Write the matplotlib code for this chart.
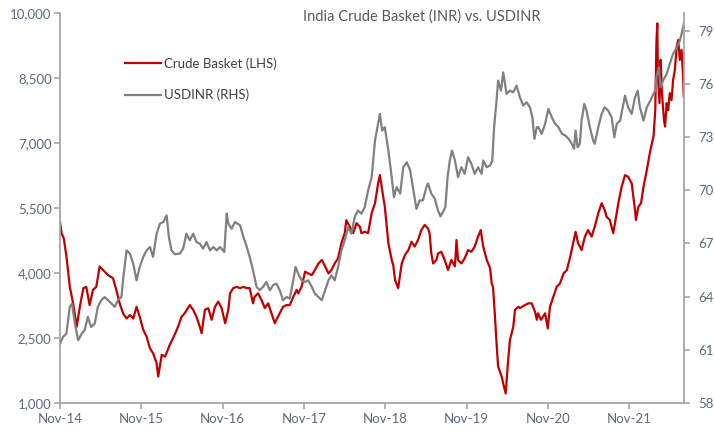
import numpy as np
import pandas as pd
import matplotlib
matplotlib.use("Agg")
import matplotlib.pyplot as plt
import matplotlib.dates as mdates
from matplotlib.ticker import FuncFormatter

# Indian crude basket in INR per bbl (LHS)
crude_dates = [
    "2014-11-01", "2014-11-08", "2014-11-18", "2014-11-30", "2014-12-15", "2014-12-30",
    "2015-01-15", "2015-01-29", "2015-02-14", "2015-02-27", "2015-03-14", "2015-03-29",
    "2015-04-13", "2015-04-28", "2015-05-13", "2015-06-05", "2015-06-27", "2015-07-12",
    "2015-07-27", "2015-08-11", "2015-08-27", "2015-09-11", "2015-09-26", "2015-10-11",
    "2015-10-25", "2015-11-10", "2015-11-25", "2015-12-10", "2015-12-24", "2016-01-09",
    "2016-01-16", "2016-02-01", "2016-02-16", "2016-03-08", "2016-03-23", "2016-04-09",
    "2016-04-30", "2016-05-14", "2016-06-06", "2016-06-21", "2016-07-06", "2016-07-21",
    "2016-07-29", "2016-08-13", "2016-08-28", "2016-09-12", "2016-09-27", "2016-10-12",
    "2016-10-27", "2016-11-12", "2016-11-26", "2016-12-04", "2016-12-18", "2017-01-03",
    "2017-01-18", "2017-02-02", "2017-02-17", "2017-03-02", "2017-03-17", "2017-03-24",
    "2017-04-09", "2017-04-24", "2017-05-09", "2017-05-24", "2017-06-08", "2017-06-23",
    "2017-06-30", "2017-07-15", "2017-07-30", "2017-08-15", "2017-08-29", "2017-09-14",
    "2017-09-29", "2017-10-06", "2017-10-21", "2017-11-06", "2017-11-20", "2017-12-06",
    "2017-12-20", "2018-01-05", "2018-01-20", "2018-02-04", "2018-02-19", "2018-03-04",
    "2018-03-19", "2018-04-03", "2018-04-18", "2018-05-03", "2018-05-10", "2018-05-25",
    "2018-06-10", "2018-06-25", "2018-07-10", "2018-07-17", "2018-08-01", "2018-08-16",
    "2018-09-01", "2018-09-16", "2018-09-30", "2018-10-08", "2018-10-18", "2018-10-30",
    "2018-11-08", "2018-11-15", "2018-11-30", "2018-12-07", "2018-12-15", "2018-12-29",
    "2019-01-14", "2019-01-29", "2019-02-13", "2019-02-27", "2019-03-13", "2019-03-28",
    "2019-04-12", "2019-04-27", "2019-05-12", "2019-05-19", "2019-05-27", "2019-06-04",
    "2019-06-19", "2019-06-26", "2019-07-11", "2019-07-26", "2019-08-10", "2019-08-25",
    "2019-09-10", "2019-09-17", "2019-09-24", "2019-10-09", "2019-10-24", "2019-11-08",
    "2019-11-23", "2019-12-08", "2019-12-23", "2020-01-04", "2020-01-15", "2020-01-31",
    "2020-02-15", "2020-02-22", "2020-02-28", "2020-03-07", "2020-03-15", "2020-03-22",
    "2020-04-07", "2020-04-14", "2020-04-25", "2020-05-06", "2020-05-14", "2020-05-29",
    "2020-06-06", "2020-06-21", "2020-06-28", "2020-07-20", "2020-08-05", "2020-08-20",
    "2020-09-04", "2020-09-12", "2020-09-17", "2020-10-01", "2020-10-19", "2020-10-31",
    "2020-11-10", "2020-11-25", "2020-12-10", "2020-12-25", "2021-01-10", "2021-01-25",
    "2021-02-09", "2021-02-22", "2021-03-05", "2021-03-16", "2021-04-01", "2021-04-16",
    "2021-04-30", "2021-05-16", "2021-05-30", "2021-06-15", "2021-06-30", "2021-07-14",
    "2021-07-22", "2021-08-06", "2021-08-21", "2021-08-29", "2021-09-13", "2021-09-28",
    "2021-10-13", "2021-10-27", "2021-11-12", "2021-11-27", "2021-12-01", "2021-12-12",
    "2021-12-24", "2022-01-04", "2022-01-19", "2022-02-04", "2022-02-18", "2022-02-26",
    "2022-03-03", "2022-03-07", "2022-03-10", "2022-03-17", "2022-03-22", "2022-03-28",
    "2022-04-06", "2022-04-11", "2022-04-18", "2022-04-25", "2022-05-02", "2022-05-10",
    "2022-05-17", "2022-05-25", "2022-06-02", "2022-06-09", "2022-06-16", "2022-06-24",
    "2022-07-01", "2022-07-04",
]
crude_vals = [
    5180, 4920, 4800, 4380, 3680, 3300,
    2760, 3220, 3650, 3680, 3260, 3610,
    3680, 4150, 4070, 3950, 3880, 3610,
    3300, 3070, 2950, 3030, 2950, 3220,
    2990, 2690, 2530, 2260, 2150, 1920,
    1610, 2110, 2070, 2340, 2500, 2690,
    2990, 3070, 3260, 3150, 2990, 2760,
    2610, 3150, 3190, 2920, 3220, 3340,
    3190, 2840, 3150, 3530, 3650, 3680,
    3650, 3680, 3650, 3650, 3300, 3450,
    3530, 3380, 3190, 3300, 3070, 2840,
    2920, 3070, 3220, 3260, 3260, 3450,
    3610, 3530, 3680, 4030, 3990, 3950,
    4070, 4220, 4300, 4150, 3990, 4070,
    4220, 4340, 4690, 4920, 5220, 5070,
    4920, 5150, 5070, 4920, 4950, 4920,
    5380, 5610, 6070, 6260, 5920, 5530,
    5070, 4690, 4300, 4180, 3840, 3650,
    4220, 4420, 4530, 4720, 4610, 4760,
    4990, 5110, 5030, 4920, 4450, 4220,
    4300, 4450, 4490, 4300, 4070, 4300,
    4150, 4760, 4300, 4220, 4340, 4530,
    4490, 4610, 4840, 4990, 4610, 4300,
    4110, 3760, 3680, 3070, 2380, 1840,
    1610, 1450, 1220, 1990, 2450, 2760,
    3150, 3220, 3190, 3260, 3300, 3300,
    3100, 2920, 3070, 2920, 3070, 2720,
    3220, 3450, 3680, 3760, 3990, 4070,
    4380, 4690, 4950, 4690, 4530, 4840,
    4990, 4840, 5070, 5380, 5610, 5450,
    5300, 5220, 4920, 5150, 5610, 5990,
    6260, 6220, 6070, 5450, 5220, 5530,
    5610, 5990, 6380, 6840, 7150, 7760,
    9300, 9760, 8530, 7920, 8920, 8150,
    7530, 7380, 7920, 7760, 8150, 7990,
    8450, 8690, 9220, 9380, 8920, 9150,
    8530, 8070,
]

# USD/INR (RHS)
fx_dates = [
    "2014-11-01", "2014-11-15", "2014-11-30", "2014-12-15", "2014-12-25", "2015-01-07",
    "2015-01-22", "2015-02-07", "2015-02-20", "2015-03-06", "2015-03-21", "2015-04-06",
    "2015-04-20", "2015-05-06", "2015-05-20", "2015-06-05", "2015-06-20", "2015-07-05",
    "2015-07-19", "2015-08-04", "2015-08-11", "2015-08-27", "2015-09-11", "2015-09-26",
    "2015-10-11", "2015-10-25", "2015-11-10", "2015-11-25", "2015-12-10", "2015-12-24",
    "2016-01-09", "2016-01-24", "2016-02-08", "2016-02-23", "2016-03-04", "2016-03-16",
    "2016-03-31", "2016-04-22", "2016-05-07", "2016-05-22", "2016-06-06", "2016-06-21",
    "2016-07-06", "2016-07-21", "2016-08-05", "2016-08-20", "2016-09-05", "2016-09-20",
    "2016-10-05", "2016-10-20", "2016-11-08", "2016-11-19", "2016-11-26", "2016-12-11",
    "2016-12-26", "2017-01-18", "2017-02-02", "2017-02-17", "2017-03-02", "2017-03-17",
    "2017-04-02", "2017-04-16", "2017-05-01", "2017-05-16", "2017-06-01", "2017-06-15",
    "2017-06-30", "2017-07-15", "2017-07-30", "2017-08-15", "2017-08-29", "2017-09-14",
    "2017-09-24", "2017-10-06", "2017-10-21", "2017-11-06", "2017-11-20", "2017-12-06",
    "2017-12-20", "2018-01-05", "2018-01-20", "2018-02-04", "2018-02-19", "2018-03-04",
    "2018-03-19", "2018-04-03", "2018-04-18", "2018-05-03", "2018-05-18", "2018-06-02",
    "2018-06-17", "2018-07-01", "2018-07-17", "2018-08-01", "2018-08-16", "2018-09-01",
    "2018-09-16", "2018-09-30", "2018-10-08", "2018-10-18", "2018-10-30", "2018-11-15",
    "2018-11-30", "2018-12-10", "2018-12-22", "2019-01-07", "2019-01-21", "2019-02-06",
    "2019-02-21", "2019-03-05", "2019-03-21", "2019-04-05", "2019-04-19", "2019-05-05",
    "2019-05-12", "2019-05-27", "2019-06-11", "2019-06-26", "2019-07-07", "2019-07-18",
    "2019-07-29", "2019-08-08", "2019-08-18", "2019-08-28", "2019-09-10", "2019-09-24",
    "2019-10-09", "2019-10-24", "2019-11-08", "2019-11-23", "2019-12-08", "2019-12-23",
    "2020-01-08", "2020-01-15", "2020-01-31", "2020-02-15", "2020-02-25", "2020-03-04",
    "2020-03-15", "2020-03-22", "2020-04-04", "2020-04-14", "2020-04-29", "2020-05-14",
    "2020-05-29", "2020-06-13", "2020-06-28", "2020-07-13", "2020-07-28", "2020-08-12",
    "2020-08-23", "2020-09-01", "2020-09-12", "2020-09-19", "2020-10-04", "2020-10-19",
    "2020-11-03", "2020-11-18", "2020-12-03", "2020-12-18", "2021-01-03", "2021-01-18",
    "2021-02-02", "2021-02-16", "2021-02-26", "2021-03-05", "2021-03-14", "2021-03-24",
    "2021-04-01", "2021-04-13", "2021-04-23", "2021-05-08", "2021-05-23", "2021-05-30",
    "2021-06-15", "2021-06-30", "2021-07-14", "2021-07-29", "2021-08-14", "2021-08-26",
    "2021-09-06", "2021-09-21", "2021-10-06", "2021-10-13", "2021-10-27", "2021-11-12",
    "2021-11-27", "2021-12-09", "2021-12-19", "2022-01-04", "2022-01-19", "2022-02-04",
    "2022-02-18", "2022-02-26", "2022-03-03", "2022-03-14", "2022-03-22", "2022-04-02",
    "2022-04-18", "2022-05-02", "2022-05-17", "2022-06-02", "2022-06-16", "2022-06-24",
    "2022-07-04",
]
fx_vals = [
    61.36, 61.73, 61.92, 63.42, 63.61, 62.48,
    61.54, 61.92, 62.11, 62.86, 62.29, 62.48,
    63.42, 63.80, 63.98, 63.80, 63.61, 63.42,
    63.80, 63.98, 64.92, 66.61, 66.43, 65.86,
    64.92, 65.67, 66.24, 66.61, 66.80, 66.24,
    67.55, 68.12, 68.21, 68.58, 67.36, 66.61,
    66.39, 66.43, 66.71, 67.55, 67.18, 67.55,
    67.08, 66.99, 66.71, 67.08, 66.61, 66.80,
    66.61, 66.80, 66.52, 68.68, 68.12, 67.83,
    68.21, 68.02, 67.36, 66.80, 66.24, 65.49,
    64.55, 64.36, 64.55, 64.83, 64.36, 64.64,
    64.74, 64.36, 63.80, 63.98, 63.89, 64.92,
    65.67, 65.30, 64.92, 64.83, 64.92, 64.55,
    64.17, 63.98, 63.80, 64.36, 64.92, 65.20,
    64.92, 65.67, 66.61, 67.18, 67.92, 67.55,
    68.49, 68.86, 68.68, 69.05, 69.99, 70.74,
    72.81, 73.75, 74.31, 73.37, 73.56, 72.24,
    70.74, 69.61, 70.18, 69.81, 71.30, 71.58,
    71.12, 70.18, 68.95, 69.43, 69.43, 70.18,
    70.39, 69.81, 69.54, 68.86, 68.53, 68.77,
    69.05, 70.74, 71.68, 72.24, 71.68, 70.74,
    71.30, 70.93, 71.87, 71.49, 70.93, 71.30,
    70.93, 71.68, 71.30, 71.40, 71.68, 73.56,
    75.06, 76.19, 75.62, 76.65, 75.44, 75.62,
    75.53, 75.90, 75.24, 74.78, 74.96, 74.68,
    74.12, 72.90, 73.56, 73.56, 73.18, 73.75,
    74.59, 74.12, 73.75, 73.56, 73.18, 73.09,
    72.90, 72.62, 72.34, 73.37, 72.43, 72.62,
    73.93, 74.87, 74.50, 73.56, 72.81, 72.62,
    73.56, 74.31, 74.68, 74.50, 74.12, 72.99,
    73.75, 73.93, 74.87, 75.34, 74.68, 74.31,
    75.24, 75.62, 74.68, 73.93, 74.68, 75.06,
    75.44, 75.62, 76.37, 76.93, 75.81, 76.19,
    76.56, 77.13, 77.69, 78.06, 78.44, 78.81,
    79.38,
]

crude_color = "#C00000"
fx_color = "#808080"
text_color = "#5B6B82"
axis_color = "#A6A6A6"

plt.rcParams["font.family"] = ["Lato", "DejaVu Sans"]

fig = plt.figure(figsize=(7.14, 4.32), dpi=100)
ax = fig.add_axes([60 / 714, 1 - 403 / 432, 624 / 714, 390 / 432])
ax2 = ax.twinx()

ax.plot(pd.to_datetime(crude_dates), crude_vals, color=crude_color, lw=1.6,
        label="Crude Basket (LHS)")
ax2.plot(pd.to_datetime(fx_dates), fx_vals, color=fx_color, lw=1.6,
         label="USDINR (RHS)")

ax.set_xlim(pd.Timestamp("2014-11-01"), pd.Timestamp("2022-07-05"))
ax.set_ylim(1000, 10000)
ax.set_yticks(np.arange(1000, 10001, 1500))
ax.yaxis.set_major_formatter(FuncFormatter(lambda v, p: f"{int(v):,}"))
ax2.set_ylim(58, 80)
ax2.set_yticks(np.arange(58, 80, 3))

xt = pd.date_range("2014-11-01", "2021-11-01", freq="12MS")
ax.set_xticks(xt)
ax.xaxis.set_major_formatter(mdates.DateFormatter("Nov-%y"))

for a in (ax, ax2):
    a.spines["top"].set_visible(False)
    for s in ("left", "right", "bottom"):
        a.spines[s].set_color(axis_color)
        a.spines[s].set_linewidth(1.3)
    a.tick_params(colors=axis_color, labelcolor=text_color, labelsize=9.5,
                  length=4, width=1.2)
ax.spines["right"].set_visible(False)
ax2.spines["left"].set_visible(False)
ax2.spines["bottom"].set_visible(False)
ax.tick_params(axis="x", pad=3)
ax.tick_params(axis="y", pad=2)
ax2.tick_params(axis="y", pad=6)

fig.text(0.590, 1 - 17 / 432, "India Crude Basket (INR) vs. USDINR",
         ha="center", va="center", fontsize=10.5, color="#595959")

h1, l1 = ax.get_legend_handles_labels()
h2, l2 = ax2.get_legend_handles_labels()
ax2.legend(h1 + h2, l1 + l2, loc="upper left", bbox_to_anchor=(125 / 714, 1 - 57 / 432),
           bbox_transform=fig.transFigure, frameon=False, fontsize=9.5,
           labelcolor="#404040", handlelength=2.7, handletextpad=0.25,
           labelspacing=1.45, borderpad=0, borderaxespad=0)

fig.savefig("out.png", dpi=100)
